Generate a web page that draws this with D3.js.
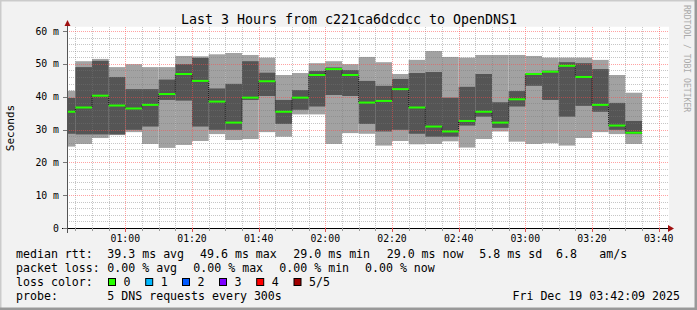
<!DOCTYPE html>
<html>
<head>
<meta charset="utf-8">
<script src="https://cdn.jsdelivr.net/npm/d3@7"></script>
<style>
  body { margin: 0; background: #f2f2f2; }
  svg text { font-family: "DejaVu Sans Mono", monospace; fill: #000; }
</style>
</head>
<body>
<div id="chart"></div>
<script>
// 5-minute buckets, 5 sorted DNS pings each (ms)
const slotStarts = ["00:40", "00:45", "00:50", "00:55", "01:00", "01:05", "01:10", "01:15", "01:20", "01:25",
    "01:30", "01:35", "01:40", "01:45", "01:50", "01:55", "02:00", "02:05", "02:10", "02:15",
    "02:20", "02:25", "02:30", "02:35", "02:40", "02:45", "02:50", "02:55", "03:00", "03:05",
    "03:10", "03:15", "03:20", "03:25", "03:30"];
const pingMin = [24.8, 25.6, 27.4, 28.3, 29.2, 25.6, 24.4, 25.3, 26.5, 28.6, 26.8, 27.1, 29.2, 27.8, 34.6, 34.6, 25.6, 28.9,
    28.7, 25.1, 26.5, 25.5, 25.6, 26.4, 24.5, 27.1, 29.4, 26.3, 25.6, 25.8, 25.1, 27.4, 29.2, 28.6, 25.6];
const pingLow = [28.7, 28.5, 28.5, 28.5, 29.9, 30.9, 39.0, 38.8, 30.9, 29.9, 29.9, 39.0, 40.2, 31.7, 36.0, 37.0, 40.5, 40.2,
    31.7, 29.4, 29.9, 28.7, 27.8, 27.8, 31.2, 33.9, 30.5, 37.0, 43.3, 39.0, 33.9, 37.2, 35.4, 29.9, 28.6];
const pingMedian = [35.4, 36.7, 40.3, 37.3, 36.4, 37.5, 40.8, 46.9, 44.8, 38.5, 32.1, 39.7, 44.7, 35.4, 39.7, 46.6, 48.4, 46.6,
    38.2, 38.7, 42.3, 36.7, 30.9, 29.4, 32.6, 35.4, 32.1, 39.2, 46.9, 47.6, 49.4, 46.0, 37.5, 31.2, 29.0];
const pingHigh = [39.6, 49.0, 50.9, 46.0, 42.3, 42.3, 45.2, 49.9, 51.8, 42.5, 43.9, 50.8, 47.3, 39.0, 42.0, 47.8, 48.9, 48.1,
    44.8, 43.3, 45.4, 47.2, 47.5, 39.7, 43.0, 46.9, 38.3, 41.7, 47.1, 47.9, 50.5, 50.2, 48.4, 38.1, 32.6];
const pingMax = [41.8, 50.8, 51.5, 49.0, 49.9, 49.0, 49.0, 52.4, 52.3, 52.9, 53.3, 52.7, 51.9, 46.6, 47.2, 50.2, 50.8, 49.9,
    52.1, 50.5, 46.9, 51.2, 53.9, 52.1, 51.9, 52.7, 52.7, 52.7, 52.4, 51.9, 51.9, 51.9, 51.2, 46.6, 41.2];

const yTicks = [0, 10, 20, 30, 40, 50, 60];
const yTickLabels = ["0", "10 m", "20 m", "30 m", "40 m", "50 m", "60 m"];

const lossColors = ["#26ff00", "#00b8ff", "#0059ff", "#7e00ff", "#ff0000", "#a00000"];
const lossLabels = ["0", "1", "2", "3", "4", "5/5"];

const W = 697, H = 310;
const plot = { left: 67, right: 667, top: 31, bottom: 228 };

const day = "2025-12-19 ";
const parseTime = d3.timeParse("%Y-%m-%d %H:%M:%S");
const tStart = parseTime(day + "00:42:30");
const tEnd = parseTime(day + "03:42:30");

const x = d3.scaleTime().domain([tStart, tEnd]).range([plot.left, plot.right]);
const y = d3.scaleLinear().domain([0, 60]).range([plot.bottom, plot.top]);

const slots = slotStarts.map((s, i) => {
    const t0 = parseTime(day + s + ":00");
    return {
        t0: t0 < tStart ? tStart : t0,
        t1: d3.timeMinute.offset(t0, 5),
        min: pingMin[i], low: pingLow[i], med: pingMedian[i], high: pingHigh[i], max: pingMax[i]
    };
});

const svg = d3.select("#chart").append("svg")
    .attr("width", W).attr("height", H);

// frame
svg.append("rect").attr("width", W).attr("height", H).attr("fill", "#f2f2f2");
svg.append("path").attr("d", `M0,${H} V0 H${W}`).attr("fill", "none").attr("stroke", "#cbcbcb").attr("stroke-width", 3);
svg.append("path").attr("d", `M0,${H - 1} H${W - 1} V0`).attr("fill", "none").attr("stroke", "#999").attr("stroke-width", 3);

// plot background
svg.append("rect")
    .attr("x", plot.left).attr("y", y(61.3))
    .attr("width", 602).attr("height", plot.bottom - y(61.3))
    .attr("fill", "#fff");

// smoke
svg.append("g").selectAll("rect")
    .data(slots).join("rect")
    .attr("x", d => x(d.t0)).attr("width", d => x(d.t1) - x(d.t0))
    .attr("y", d => y(d.max)).attr("height", d => y(d.min) - y(d.max))
    .attr("fill", "#a2a2a2");

svg.append("g").selectAll("rect")
    .data(slots).join("rect")
    .attr("x", d => x(d.t0)).attr("width", d => x(d.t1) - x(d.t0))
    .attr("y", d => y(d.high)).attr("height", d => y(d.low) - y(d.high))
    .attr("fill", "#555");

// grid on top of the smoke
const grid = svg.append("g").attr("shape-rendering", "crispEdges");
const gridTop = y(61.3);
const minorY = d3.range(2, 61, 2).filter(v => v % 10 !== 0);
const minorT = d3.timeMinute.every(5).range(tStart, d3.timeMinute.offset(tEnd, 1)).filter(t => t.getMinutes() % 20 !== 0);
const majorT = d3.timeMinute.every(20).range(tStart, d3.timeMinute.offset(tEnd, 1));

grid.selectAll(".hmin").data(minorY).join("line")
    .attr("x1", plot.left).attr("x2", 669)
    .attr("y1", d => Math.round(y(d)) + 0.5).attr("y2", d => Math.round(y(d)) + 0.5)
    .attr("stroke", "rgba(120,120,120,0.42)").attr("stroke-dasharray", "1,1");
grid.selectAll(".vmin").data(minorT).join("line")
    .attr("x1", d => Math.round(x(d)) + 0.5).attr("x2", d => Math.round(x(d)) + 0.5)
    .attr("y1", gridTop).attr("y2", plot.bottom)
    .attr("stroke", "rgba(120,120,120,0.42)").attr("stroke-dasharray", "1,1");
grid.selectAll(".hmaj").data(yTicks.slice(1)).join("line")
    .attr("x1", plot.left).attr("x2", 669)
    .attr("y1", d => Math.round(y(d)) + 0.5).attr("y2", d => Math.round(y(d)) + 0.5)
    .attr("stroke", "rgba(255,70,70,0.5)").attr("stroke-dasharray", "1,1");
grid.selectAll(".vmaj").data(majorT).join("line")
    .attr("x1", d => Math.round(x(d)) + 0.5).attr("x2", d => Math.round(x(d)) + 0.5)
    .attr("y1", gridTop).attr("y2", plot.bottom)
    .attr("stroke", "rgba(255,70,70,0.5)").attr("stroke-dasharray", "1,1");

// median: dark step line, green where loss is 0
const stepPts = slots.map(d => [x(d.t0), y(d.med)]);
stepPts.push([x(slots[slots.length - 1].t1), y(slots[slots.length - 1].med)]);
svg.append("path")
    .attr("d", d3.line().curve(d3.curveStepAfter)(stepPts))
    .attr("fill", "none").attr("stroke", "#111").attr("stroke-width", 1)
    .attr("stroke-dasharray", "1,1");

svg.append("g").selectAll("rect")
    .data(slots).join("rect")
    .attr("x", d => x(d.t0)).attr("width", d => x(d.t1) - x(d.t0))
    .attr("y", d => y(d.med) - 1).attr("height", 2)
    .attr("fill", lossColors[0]);

// axes
const axis = svg.append("g").attr("shape-rendering", "crispEdges");
axis.append("line").attr("x1", 62).attr("x2", 669).attr("y1", 228.5).attr("y2", 228.5).attr("stroke", "#000");
axis.append("line").attr("x1", 67.5).attr("x2", 67.5).attr("y1", 233).attr("y2", 25).attr("stroke", "#555");
svg.append("path").attr("d", "M668,225 L674,228.5 L668,232 Z").attr("fill", "#a01010");
svg.append("path").attr("d", "M64.5,26 L67.5,20 L70.5,26 Z").attr("fill", "#a01010");

axis.selectAll(".ytick").data(yTicks).join("line")
    .attr("x1", 63).attr("x2", 67)
    .attr("y1", d => Math.round(y(d)) + 0.5).attr("y2", d => Math.round(y(d)) + 0.5)
    .attr("stroke", "#777");
axis.selectAll(".xtickmin").data(minorT).join("line")
    .attr("x1", d => Math.round(x(d)) + 0.5).attr("x2", d => Math.round(x(d)) + 0.5)
    .attr("y1", 228).attr("y2", 231).attr("stroke", "#999");
axis.selectAll(".xtickmaj").data(majorT).join("line")
    .attr("x1", d => Math.round(x(d)) + 0.5).attr("x2", d => Math.round(x(d)) + 0.5)
    .attr("y1", 228).attr("y2", 232).attr("stroke", "#e05050");

svg.append("g").selectAll("text")
    .data(yTicks).join("text")
    .attr("x", 59).attr("y", d => y(d) + 3.5)
    .attr("text-anchor", "end").attr("font-size", "9.8px")
    .text((d, i) => yTickLabels[i]);

const fmt = d3.timeFormat("%H:%M");
svg.append("g").selectAll("text")
    .data(majorT).join("text")
    .attr("x", d => x(d)).attr("y", 241.5)
    .attr("text-anchor", "middle").attr("font-size", "9.8px")
    .text(d => fmt(d));

// titles
svg.append("text").attr("x", 349).attr("y", 23.5).attr("text-anchor", "middle")
    .attr("font-size", "13.3px").text("Last 3 Hours from c221ca6dcdcc to OpenDNS1");
svg.append("text").attr("transform", "translate(14,128) rotate(-90)").attr("text-anchor", "middle")
    .attr("font-size", "11px").text("Seconds");
svg.append("text").attr("transform", "translate(684,5) rotate(90)").attr("text-anchor", "start")
    .attr("font-size", "8.1px").style("fill", "#aaa").text("RRDTOOL / TOBI OETIKER");

// legend
const legendRows = [
    { y: 258, items: [[16, "median rtt:"], [107.3, "39.3 ms avg"], [200, "49.6 ms max"], [293.3, "29.0 ms min"],
        [386.7, "29.0 ms now"], [479.3, "5.8 ms sd"], [556, "6.8"], [599.3, "am/s"]] },
    { y: 272, items: [[16, "packet loss:"], [107.3, "0.00 % avg"], [193.3, "0.00 % max"], [279.3, "0.00 % min"],
        [365, "0.00 % now"]] },
    { y: 286, items: [[16, "loss color:"]] },
    { y: 300, items: [[16, "probe:"], [107.3, "5 DNS requests every 300s"]] }
];
legendRows.forEach(row => {
    svg.append("g").selectAll("text")
        .data(row.items).join("text")
        .attr("x", d => d[0]).attr("y", row.y)
        .attr("font-size", "11.6px").attr("xml:space", "preserve")
        .text(d => d[1]);
});

const swatchX = [108.5, 145.7, 182.5, 219.5, 256.7, 294];
const sw = svg.append("g").selectAll("g")
    .data(lossColors).join("g")
    .attr("transform", (d, i) => `translate(${swatchX[i]},278.5)`);
sw.append("rect").attr("width", 7).attr("height", 7)
    .attr("fill", d => d).attr("stroke", "#000").attr("stroke-width", 1);
sw.append("text").attr("x", 15).attr("y", 7.5).attr("font-size", "11.6px")
    .text((d, i) => lossLabels[i]);

svg.append("text").attr("x", 680).attr("y", 300).attr("text-anchor", "end")
    .attr("font-size", "11.6px").text("Fri Dec 19 03:42:09 2025");
</script>
</body>
</html>
